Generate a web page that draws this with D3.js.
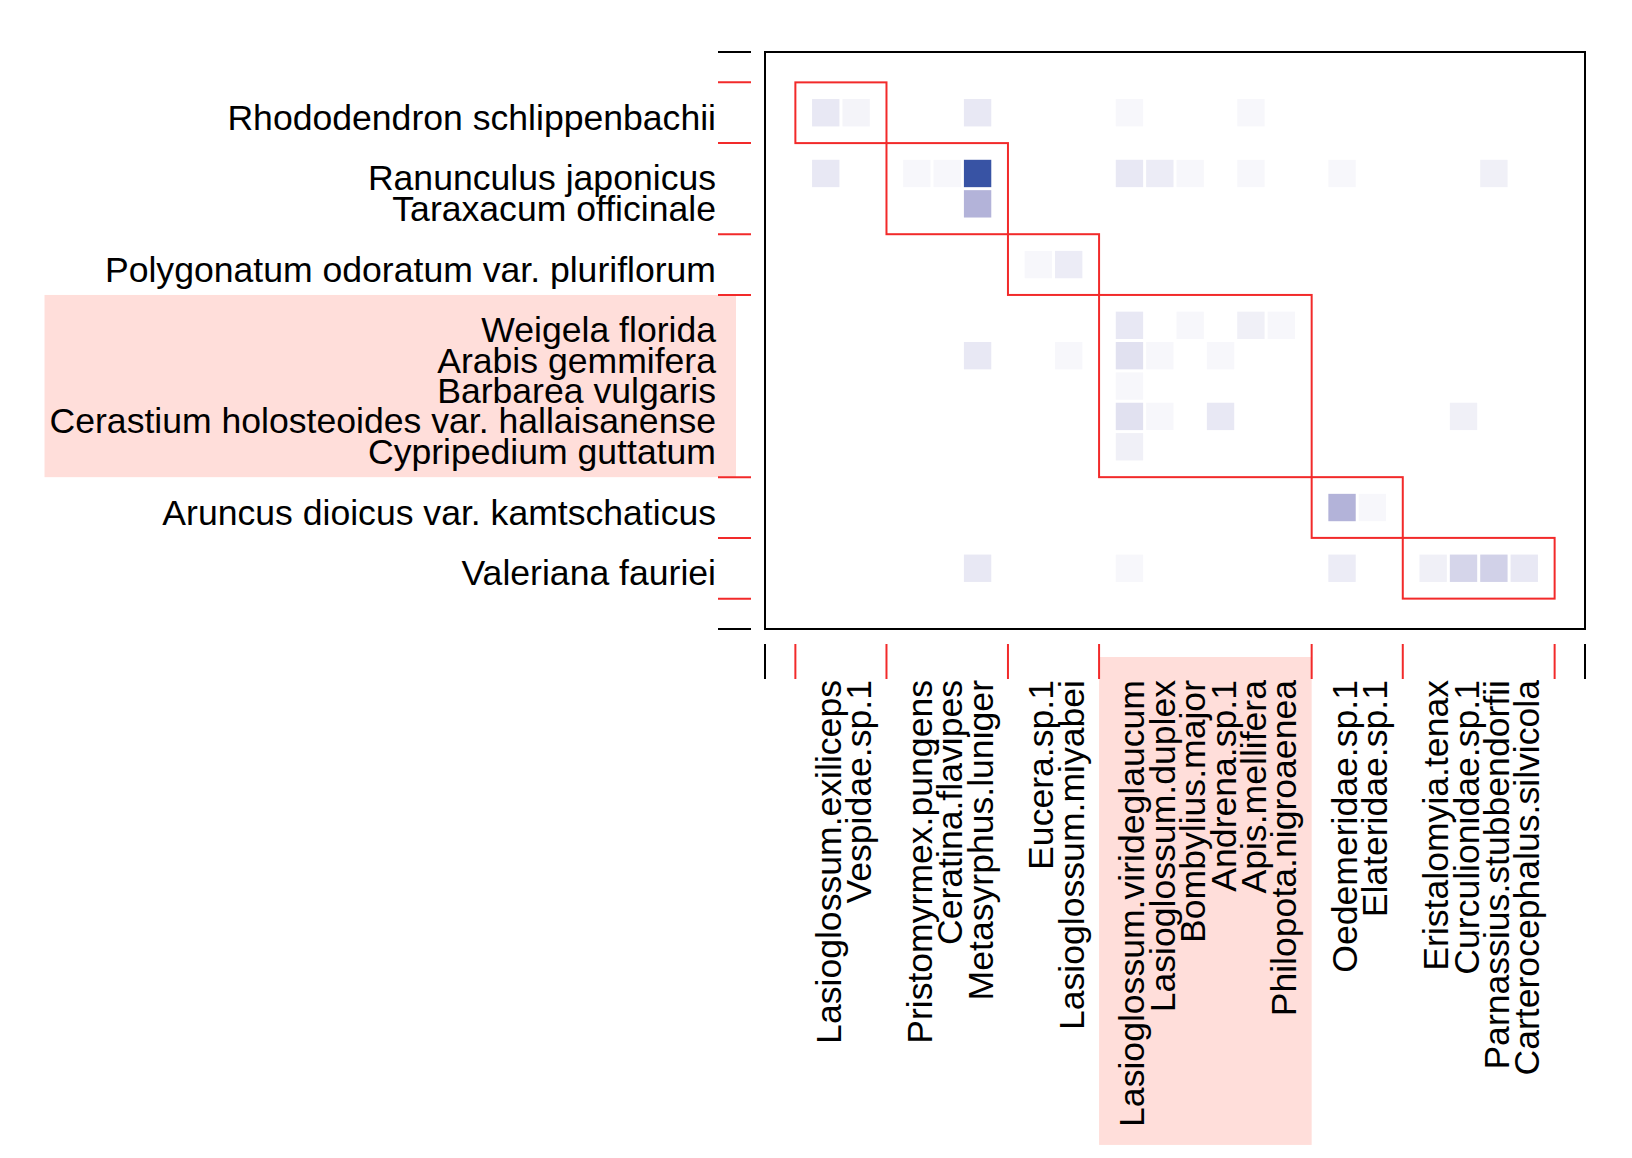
<!DOCTYPE html>
<html lang="en">
<head>
<meta charset="utf-8">
<title>Module web</title>
<script src="https://d3js.org/d3.v7.min.js"></script>
<style>
  body { margin: 0; background: #fff; }
  text { font-family: "Liberation Sans", Arial, sans-serif; font-size: 35.6px; fill: #000; }
</style>
</head>
<body>
<div id="chart"></div>
<script>
// plants (rows) and pollinators (columns), ordered by module
var plants = ["Rhododendron schlippenbachii", "Ranunculus japonicus", "Taraxacum officinale",
  "Polygonatum odoratum var. pluriflorum", "Weigela florida", "Arabis gemmifera",
  "Barbarea vulgaris", "Cerastium holosteoides var. hallaisanense", "Cypripedium guttatum",
  "Aruncus dioicus var. kamtschaticus", "Valeriana fauriei"];
var pollinators = ["Lasioglossum.exiliceps", "Vespidae.sp.1", "Pristomyrmex.pungens",
  "Ceratina.flavipes", "Metasyrphus.luniger", "Eucera.sp.1", "Lasioglossum.miyabei",
  "Lasioglossum.virideglaucum", "Lasioglossum.duplex", "Bombylius.major", "Andrena.sp.1",
  "Apis.mellifera", "Philopota.nigroaenea", "Oedemeridae.sp.1", "Elateridae.sp.1",
  "Eristalomyia.tenax", "Curculionidae.sp.1", "Parnassius.stubbendorfii",
  "Carterocephalus.silvicola"];
var plantModule = [0, 1, 1, 2, 3, 3, 3, 3, 3, 4, 5];
var pollinatorModule = [0, 0, 1, 1, 1, 2, 2, 3, 3, 3, 3, 3, 3, 4, 4, 5, 5, 5, 5];
var highlightModule = 3;
// interaction weights, plants x pollinators
var visits = [
  [6, 3, 0, 0, 6, 0, 0, 2, 0, 0, 0, 2, 0, 0, 0, 0, 0, 0, 0],
  [6, 0, 2, 2, 50, 0, 0, 6, 5, 2, 0, 2, 0, 2, 0, 0, 0, 4, 0],
  [0, 0, 0, 0, 20, 0, 0, 0, 0, 0, 0, 0, 0, 0, 0, 0, 0, 0, 0],
  [0, 0, 0, 0, 0, 2, 5, 0, 0, 0, 0, 0, 0, 0, 0, 0, 0, 0, 0],
  [0, 0, 0, 0, 0, 0, 0, 6, 0, 2, 0, 4, 2, 0, 0, 0, 0, 0, 0],
  [0, 0, 0, 0, 6, 0, 2, 8, 2, 0, 2, 0, 0, 0, 0, 0, 0, 0, 0],
  [0, 0, 0, 0, 0, 0, 0, 2, 0, 0, 0, 0, 0, 0, 0, 0, 0, 0, 0],
  [0, 0, 0, 0, 0, 0, 0, 8, 2, 0, 6, 0, 0, 0, 0, 0, 4, 0, 0],
  [0, 0, 0, 0, 0, 0, 0, 4, 0, 0, 0, 0, 0, 0, 0, 0, 0, 0, 0],
  [0, 0, 0, 0, 0, 0, 0, 0, 0, 0, 0, 0, 0, 20, 2, 0, 0, 0, 0],
  [0, 0, 0, 0, 6, 0, 0, 2, 0, 0, 0, 0, 0, 5, 0, 4, 11, 12, 6]
];

(function () {
    var width = 1632, height = 1158;
    var nMod = d3.max(plantModule) + 1;

    // layout in cell units: each module takes its size + 1 (half a cell padding each side)
    function layout(membership) {
        var counts = d3.range(nMod).map(function (m) {
            return membership.filter(function (d) { return d === m; }).length;
        });
        var start = [], end = [], s = 1;
        counts.forEach(function (c, m) { start[m] = s; s += c + 1; end[m] = s; });
        var seen = d3.range(nMod).map(function () { return 0; });
        var pos = membership.map(function (m) { return start[m] + 1 + (seen[m]++); });
        return {start: start, end: end, pos: pos, total: s + 1};
    }
    var cols = layout(pollinatorModule), rows = layout(plantModule);

    var x = d3.scaleLinear().domain([0, cols.total]).range([765, 1585]);
    var y = d3.scaleLinear().domain([0, rows.total]).range([52, 629]);
    var u = x(1) - x(0);

    var color = d3.scaleLinear().domain([0, 20, 50])
        .range(["#ffffff", "#b3b3d9", "#3853a4"]);

    var svg = d3.select("#chart").append("svg")
        .attr("width", width).attr("height", height);

    var bg = svg.append("g");
    var red = "#f22a2a";

    // cells
    var cells = [];
    visits.forEach(function (row, i) {
        row.forEach(function (v, j) { if (v > 0) cells.push({i: i, j: j, v: v}); });
    });
    var cs = u - 3;
    svg.append("g").selectAll("rect").data(cells).enter().append("rect")
        .attr("x", function (d) { return x(cols.pos[d.j]) - cs / 2; })
        .attr("y", function (d) { return y(rows.pos[d.i]) - cs / 2; })
        .attr("width", cs).attr("height", cs)
        .style("fill", function (d) { return color(d.v); });

    // module boxes
    svg.append("g").selectAll("rect").data(d3.range(nMod)).enter().append("rect")
        .attr("x", function (m) { return x(cols.start[m]); })
        .attr("y", function (m) { return y(rows.start[m]); })
        .attr("width", function (m) { return x(cols.end[m]) - x(cols.start[m]); })
        .attr("height", function (m) { return y(rows.end[m]) - y(rows.start[m]); })
        .style("fill", "none").style("stroke", red).style("stroke-width", 2);

    // outer frame
    svg.append("rect")
        .attr("x", x(0)).attr("y", y(0))
        .attr("width", x(cols.total) - x(0)).attr("height", y(rows.total) - y(0))
        .style("fill", "none").style("stroke", "#000").style("stroke-width", 2);

    // ticks on left and bottom
    var yTicks = [{v: 0, c: "#000"}].concat(rows.start.map(function (s) { return {v: s, c: red}; }))
        .concat([{v: rows.end[nMod - 1], c: red}, {v: rows.total, c: "#000"}]);
    svg.append("g").selectAll("line").data(yTicks).enter().append("line")
        .attr("x1", 718).attr("x2", 751)
        .attr("y1", function (d) { return y(d.v); }).attr("y2", function (d) { return y(d.v); })
        .style("stroke", function (d) { return d.c; }).style("stroke-width", 2);
    var xTicks = [{v: 0, c: "#000"}].concat(cols.start.map(function (s) { return {v: s, c: red}; }))
        .concat([{v: cols.end[nMod - 1], c: red}, {v: cols.total, c: "#000"}]);
    svg.append("g").selectAll("line").data(xTicks).enter().append("line")
        .attr("y1", 644).attr("y2", 679)
        .attr("x1", function (d) { return x(d.v); }).attr("x2", function (d) { return x(d.v); })
        .style("stroke", function (d) { return d.c; }).style("stroke-width", 2);

    // labels
    var labelRight = 716, labelTop = 680;
    var pl = svg.append("g").selectAll("text").data(plants).enter().append("text")
        .attr("x", labelRight)
        .attr("y", function (d, i) { return y(rows.pos[i]) + 17; })
        .attr("text-anchor", "end")
        .text(function (d) { return d; });
    var po = svg.append("g").selectAll("text").data(pollinators).enter().append("text")
        .attr("transform", function (d, i) {
            return "translate(" + (x(cols.pos[i]) + 15) + "," + labelTop + ") rotate(-90)";
        })
        .attr("text-anchor", "end")
        .text(function (d) { return d; });

    // highlighted module background
    var left = d3.min(pl.nodes().filter(function (n, i) { return plantModule[i] === highlightModule; }),
        function (n) { return n.getBBox().x; });
    bg.append("rect")
        .attr("x", left - 5).attr("y", y(rows.start[highlightModule]))
        .attr("width", labelRight + 20 - (left - 5))
        .attr("height", y(rows.end[highlightModule]) - y(rows.start[highlightModule]))
        .style("fill", "#ffdeda");
    var longest = d3.max(po.nodes().filter(function (n, i) { return pollinatorModule[i] === highlightModule; }),
        function (n) { return n.getComputedTextLength(); });
    bg.append("rect")
        .attr("x", x(cols.start[highlightModule])).attr("y", labelTop - 23)
        .attr("width", x(cols.end[highlightModule]) - x(cols.start[highlightModule]))
        .attr("height", longest + 23 + 18)
        .style("fill", "#ffdeda");
}());
</script>
</body>
</html>
